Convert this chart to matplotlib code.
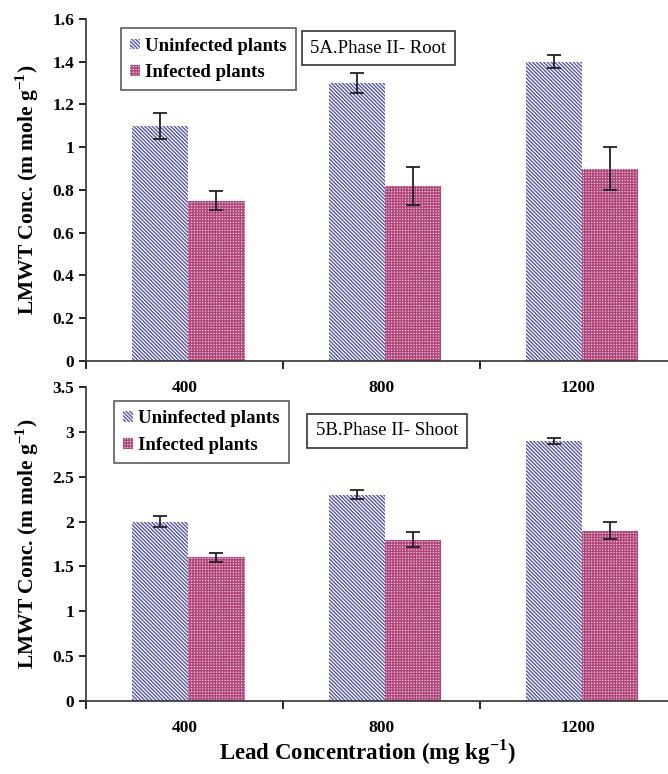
import numpy as np
import matplotlib.pyplot as plt
from matplotlib.ticker import FixedLocator, FuncFormatter

plt.rcParams['font.family'] = ['Liberation Serif', 'DejaVu Serif']
plt.rcParams['mathtext.fontset'] = 'custom'
plt.rcParams['mathtext.rm'] = 'Liberation Serif'
plt.rcParams['mathtext.bf'] = 'Liberation Serif:bold'
plt.rcParams['hatch.linewidth'] = 1.0

# data
lead = ['400', '800', '1200']
root_uninf = [1.10, 1.30, 1.40]
root_uninf_err = [0.06, 0.045, 0.03]
root_inf = [0.75, 0.82, 0.90]
root_inf_err = [0.045, 0.088, 0.10]

shoot_uninf = [2.0, 2.3, 2.9]
shoot_uninf_err = [0.06, 0.05, 0.035]
shoot_inf = [1.6, 1.8, 1.9]
shoot_inf_err = [0.05, 0.08, 0.09]

blue = '#5656aa'
pink_face = '#efc6d8'
pink_hatch = '#b0467a'

fig = plt.figure(figsize=(6.68, 7.74), dpi=100)
ax1 = fig.add_axes([0.1287, 0.5336, 0.8713, 0.4419])
ax2 = fig.add_axes([0.1287, 0.0943, 0.8713, 0.4057])
ax2.patch.set_visible(False)

fmt = FuncFormatter(lambda v, p: ('%g' % round(v, 2)))


def draw(ax, uninf, uerr, inf, ierr, ymax, ystep, title, legend_box, title_pos):
    x = np.arange(len(lead))
    w = 0.285
    ax.bar(x - w / 2 + 0.02, uninf, w, color='white', edgecolor=blue,
           hatch='\\' * 9, linewidth=0, label='Uninfected plants')
    ax.bar(x + w / 2 + 0.02, inf, w, color=pink_face, edgecolor=pink_hatch,
           hatch='+' * 6, linewidth=0, label='Infected plants')
    ax.errorbar(x - w / 2 + 0.02, uninf, yerr=uerr, fmt='none', ecolor='#222222',
                elinewidth=1.3, capsize=5, capthick=1.3)
    ax.errorbar(x + w / 2 + 0.02, inf, yerr=ierr, fmt='none', ecolor='#222222',
                elinewidth=1.3, capsize=5, capthick=1.3)
    ax.set_xlim(-0.5, 2.455)
    ax.set_ylim(0, ymax)
    ax.set_yticks(np.arange(0, ymax + 1e-9, ystep))
    ax.yaxis.set_major_formatter(fmt)
    ax.xaxis.set_major_locator(FixedLocator([-0.5, 0.5, 1.5, 2.5]))
    ax.xaxis.set_minor_locator(FixedLocator(x))
    ax.set_xticklabels([], minor=False)
    ax.set_xticklabels(lead, minor=True)
    ax.tick_params(axis='x', which='major', length=6, width=1.2, direction='out')
    ax.tick_params(axis='x', which='minor', length=0, pad=14, labelsize=12.5)
    ax.tick_params(axis='y', length=5, width=1.2, direction='out', labelsize=12.5)
    for lab in ax.get_xticklabels(minor=True) + ax.get_yticklabels():
        lab.set_fontweight('bold')
    ax.spines['top'].set_visible(False)
    ax.spines['right'].set_visible(False)
    for s in ('left', 'bottom'):
        ax.spines[s].set_linewidth(1.2)
        ax.spines[s].set_color('#333333')
    ax.set_ylabel('LMWT Conc. (m mole g$^{\\mathbf{-1}}$)', fontsize=15.5,
                  fontweight='bold', labelpad=8)
    leg = ax.legend(loc='upper left', bbox_to_anchor=legend_box, frameon=True,
                    fancybox=False, edgecolor='#333333', handlelength=0.5,
                    handleheight=0.5, handletextpad=0.3, borderpad=0.5,
                    labelspacing=0.5, prop={'weight': 'bold', 'size': 13.5})
    leg.get_frame().set_linewidth(1.2)
    ax.text(title_pos[0], title_pos[1], title, transform=ax.transAxes,
            fontsize=13.5, va='center', ha='left',
            bbox=dict(boxstyle='square,pad=0.45', fc='white', ec='#333333', lw=1.2))


draw(ax1, root_uninf, root_uninf_err, root_inf, root_inf_err, 1.6, 0.2,
     '5A.Phase II- Root', (0.044, 1.0), (0.385, 0.915))
draw(ax2, shoot_uninf, shoot_uninf_err, shoot_inf, shoot_inf_err, 3.5, 0.5,
     '5B.Phase II- Shoot', (0.032, 0.985), (0.395, 0.86))

fig.text(0.55, 0.028, 'Lead Concentration (mg kg$^{\\mathbf{-1}}$)', fontsize=16.5,
         fontweight='bold', ha='center', va='center')

fig.savefig('out.png', dpi=100)
